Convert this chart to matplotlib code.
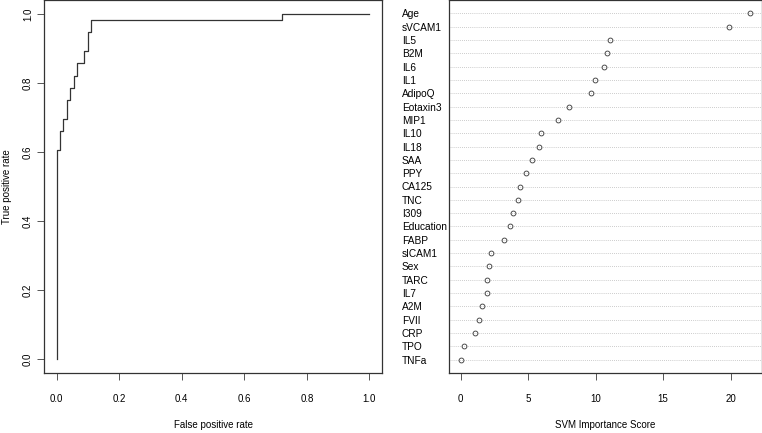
import matplotlib
matplotlib.use("Agg")
import matplotlib.pyplot as plt
import numpy as np

plt.rcParams['font.family'] = ['Liberation Sans', 'DejaVu Sans']
plt.rcParams['font.size'] = 7

# ROC curve corner points (steps go up, then right)
fpr = [0.0, 0.011, 0.022, 0.033, 0.044, 0.056, 0.067, 0.089, 0.100, 0.111, 0.722, 1.0]
tpr = [0.0, 0.607, 0.661, 0.696, 0.750, 0.786, 0.821, 0.857, 0.893, 0.946, 0.982, 1.0]

# SVM variable importance, top to bottom
features = ['Age', 'sVCAM1', 'IL5', 'B2M', 'IL6', 'IL1', 'AdipoQ', 'Eotaxin3', 'MIP1',
            'IL10', 'IL18', 'SAA', 'PPY', 'CA125', 'TNC', 'I309', 'Education', 'FABP',
            'sICAM1', 'Sex', 'TARC', 'IL7', 'A2M', 'FVII', 'CRP', 'TPO', 'TNFa']
scores = [21.46, 19.85, 11.09, 10.86, 10.59, 9.97, 9.65, 8.04, 7.18,
          5.94, 5.77, 5.27, 4.85, 4.38, 4.26, 3.91, 3.69, 3.24,
          2.25, 2.10, 1.98, 1.93, 1.61, 1.39, 1.09, 0.22, 0.0]

W, H = 762, 433
fig = plt.figure(figsize=(W / 100, H / 100), dpi=100)

box_col = '#333333'

# ---- left: ROC curve ----
ax1 = fig.add_axes([44 / W, (H - 373) / H, (382 - 44) / W, 373 / H])
ax1.plot(fpr, tpr, drawstyle='steps-pre', color='#333333', lw=0.9)
ax1.set_xlim(-0.04, 1.04)
ax1.set_ylim(-0.04, 1.04)
ax1.set_xticks(np.arange(0, 1.01, 0.2))
ax1.set_yticks(np.arange(0, 1.01, 0.2))
ax1.set_xticklabels(['0.0', '0.2', '0.4', '0.6', '0.8', '1.0'])
ax1.set_yticklabels(['0.0', '0.2', '0.4', '0.6', '0.8', '1.0'], rotation=90, va='center')
ax1.tick_params(direction='out', length=5, width=0.7, color='#555555', pad=10)
ax1.tick_params(axis='y', pad=3)
ax1.set_xlabel('False positive rate', va='center')
ax1.xaxis.set_label_coords(0.5, -(425 - 373) / 373)
ax1.set_ylabel('True positive rate', va='center')
ax1.yaxis.set_label_coords(-(44 - 7) / 338, 0.5)
for s in ax1.spines.values():
    s.set_color(box_col)
    s.set_linewidth(0.9)

# ---- right: dot chart of importance ----
ax2 = fig.add_axes([449 / W, (H - 373) / H, (W - 449) / W, 373 / H])
n = len(features)
rows = np.arange(n, 0, -1)
for r in rows:
    ax2.axhline(r, color='#bbbbbb', lw=0.6, ls=(0, (1, 1.5)))
ax2.plot(scores, rows, 'o', mfc='none', mec='#333333', mew=0.6, ms=3.5)
span = max(scores) - min(scores)
ax2.set_xlim(min(scores) - 0.04 * span, max(scores) + 0.04 * span)
ax2.set_ylim(0, n + 1)
ax2.set_xticks([0, 5, 10, 15, 20])
ax2.set_yticks(rows)
ax2.set_yticklabels(features, ha='left', fontsize=7.3)
ax2.tick_params(axis='y', length=0, pad=(449 - 402) * 0.72)
ax2.tick_params(axis='x', direction='out', length=5, width=0.7, color='#555555', pad=10)
ax2.set_xlabel('SVM Importance Score', va='center')
ax2.xaxis.set_label_coords(0.5, -(425 - 373) / 373)
for s in ax2.spines.values():
    s.set_color(box_col)
    s.set_linewidth(0.9)

fig.savefig('out.png', dpi=100)
